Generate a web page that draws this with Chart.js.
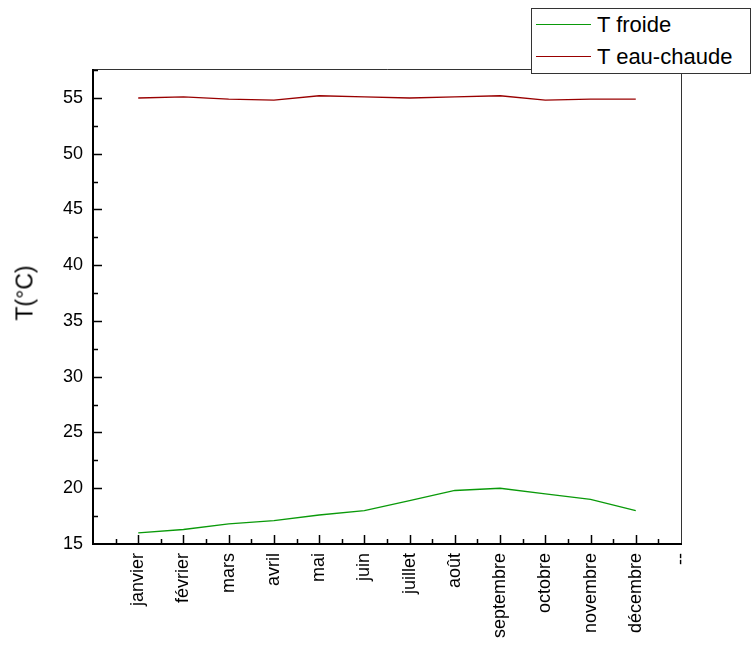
<!DOCTYPE html>
<html>
<head>
<meta charset="utf-8">
<script src="https://cdn.jsdelivr.net/npm/chart.js@4/dist/chart.umd.min.js"></script>
<style>
  html, body { margin: 0; padding: 0; background: #fff; }
  #wrap { position: relative; width: 752px; height: 648px; }
  #legend {
    position: absolute; left: 531px; top: 8px; width: 218px; height: 64px;
    border: 1px solid #333; background: #fff;
    font-family: 'Liberation Sans', Arial, sans-serif; font-size: 22px; color: #000;
  }
  #legend .row { position: absolute; left: 0; width: 218px; height: 30px; line-height: 30px; white-space: nowrap; }
  #legend .swatch { position: absolute; display: block; left: 4px; top: 14px; width: 55px; height: 0; border-top-width: 1.5px; border-top-style: solid; }
  #legend .lbl { position: absolute; left: 65px; top: 0; }
  #ytitle {
    position: absolute; left: 25px; top: 293px; white-space: nowrap;
    transform: translate(-50%, -50%) rotate(-90deg);
    font-family: 'Liberation Sans', Arial, sans-serif; font-size: 23px; color: #000;
  }
</style>
</head>
<body>
<div id="wrap">
  <canvas id="tempChart" width="752" height="648"></canvas>
  <div id="ytitle">T(°C)</div>
  <div id="legend"></div>
</div>
<script>
const months = ['janvier','février','mars','avril','mai','juin','juillet','août','septembre','octobre','novembre','décembre'];
const tFroide = [16.0, 16.3, 16.8, 17.1, 17.6, 18.0, 18.9, 19.8, 20.0, 19.5, 19.0, 18.0];
const tChaude = [55.0, 55.1, 54.9, 54.8, 55.2, 55.1, 55.0, 55.1, 55.2, 54.8, 54.9, 54.9];
const yTicks = [15, 20, 25, 30, 35, 40, 45, 50, 55];
const xTicks = [1, 2, 3, 4, 5, 6, 7, 8, 9, 10, 11, 12, 13];
const endLabel = '--';

const FONT = "'Liberation Sans', Arial, sans-serif";
const yMin = 15, yMax = 57.6, xMin = 0, xMax = 13;

const series = [
  { label: 'T froide', data: tFroide, color: '#0a9a0a' },
  { label: 'T eau-chaude', data: tChaude, color: '#990000' }
];

// inward ticks + frame, origin-style
const frameTicks = {
  id: 'frameTicks',
  afterDraw(chart) {
    const { ctx, chartArea: a, scales: { x, y } } = chart;
    ctx.save();
    ctx.strokeStyle = '#333';
    ctx.lineWidth = 1;
    ctx.beginPath();
    ctx.moveTo(a.left, a.top + 0.5); ctx.lineTo(a.right + 0.5, a.top + 0.5);
    ctx.lineTo(a.right + 0.5, a.bottom);
    ctx.stroke();

    ctx.strokeStyle = '#000';
    ctx.lineWidth = 2;
    ctx.beginPath();
    ctx.moveTo(a.left, a.top); ctx.lineTo(a.left, a.bottom); ctx.lineTo(a.right + 1, a.bottom);
    ctx.stroke();

    ctx.lineWidth = 1.5;
    ctx.beginPath();
    for (let v = xMin + 0.5; v < xMax; v += 0.5) {
      const px = Math.round(x.getPixelForValue(v)) + 0.5;
      const len = Number.isInteger(v) ? 9 : 5;
      ctx.moveTo(px, a.bottom); ctx.lineTo(px, a.bottom - len);
    }
    for (let v = yMin + 2.5; v < yMax; v += 2.5) {
      const py = Math.round(y.getPixelForValue(v)) + 0.5;
      const len = (v % 5 === 0) ? 9 : 5;
      ctx.moveTo(a.left, py); ctx.lineTo(a.left + len, py);
    }
    ctx.stroke();
    ctx.restore();
  }
};

function buildLegend() {
  const el = document.getElementById('legend');
  series.forEach((s, i) => {
    const row = document.createElement('div');
    row.className = 'row';
    row.style.top = (1 + i * 32) + 'px';
    const sw = document.createElement('div');
    sw.className = 'swatch';
    sw.style.borderTopColor = s.color;
    const lbl = document.createElement('span');
    lbl.className = 'lbl';
    lbl.textContent = s.label;
    row.appendChild(sw);
    row.appendChild(lbl);
    el.appendChild(row);
  });
}

function initChart() {
  new Chart(document.getElementById('tempChart'), {
    type: 'line',
    data: {
      datasets: series.map(s => ({
        label: s.label,
        data: s.data.map((v, i) => ({ x: i + 1, y: v })),
        borderColor: s.color,
        borderWidth: 1.3,
        pointRadius: 0,
        tension: 0,
        fill: false
      }))
    },
    options: {
      responsive: false,
      animation: false,
      layout: { padding: { left: 0, top: 69, right: 71, bottom: 0 } },
      plugins: { legend: { display: false }, tooltip: { enabled: false } },
      scales: {
        x: {
          type: 'linear', min: xMin, max: xMax,
          grid: { display: false, drawTicks: false },
          border: { display: false },
          afterBuildTicks: s => { s.ticks = xTicks.map(v => ({ value: v })); },
          afterFit: s => { s.height = 104; },
          ticks: {
            autoSkip: false, minRotation: 90, maxRotation: 90, padding: 9,
            color: '#000', font: { family: FONT, size: 18 },
            callback: v => (v === xMax ? endLabel : months[v - 1])
          }
        },
        y: {
          min: yMin, max: yMax,
          grid: { display: false, drawTicks: false },
          border: { display: false },
          afterBuildTicks: s => { s.ticks = yTicks.map(v => ({ value: v })); },
          afterFit: s => { s.width = 93; },
          ticks: { padding: 10, color: '#000', font: { family: FONT, size: 18 } }
        }
      }
    },
    plugins: [frameTicks]
  });
}

document.addEventListener('DOMContentLoaded', () => {
  buildLegend();
  initChart();
});
</script>
</body>
</html>
